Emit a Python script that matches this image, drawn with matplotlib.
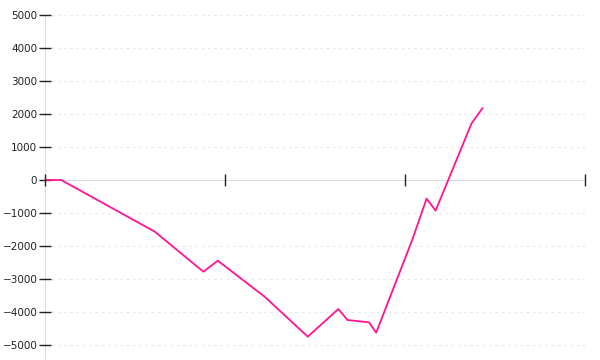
import matplotlib
matplotlib.use("Agg")
import matplotlib.pyplot as plt

# cumulative values (x in tick units of 100)
x_vals = [0, 9, 61, 88, 96, 122, 146, 163, 168, 180, 184, 204, 212, 217, 237, 243]
y_vals = [0, 0, -1566, -2778, -2445, -3536, -4748, -3909, -4242, -4313, -4626,
          -1818, -566, -929, 1717, 2172]
y_ticks = [-5000, -4000, -3000, -2000, -1000, 0, 1000, 2000, 3000, 4000, 5000]
x_ticks = [0, 100, 200, 300]

fig = plt.figure(figsize=(6, 3.6), dpi=100)
ax = fig.add_axes([0.075, 0.0, 0.9, 345 / 360])

ax.plot(x_vals, y_vals, color="#ff1493", lw=1.3, zorder=3)

ax.set_xlim(0, 300)
ax.set_ylim(-5455, 5000)

# dotted grid
for v in y_ticks:
    if v != 0:
        ax.axhline(v, color="#e8e8e8", lw=0.9, ls=(0, (2, 3)), zorder=1)

for s in ["top", "right"]:
    ax.spines[s].set_visible(False)
ax.spines["left"].set_color("#dddddd")
ax.spines["left"].set_zorder(0.5)
ax.spines["bottom"].set_position(("data", 0))
ax.spines["bottom"].set_color("#dddddd")
ax.spines["bottom"].set_zorder(0.5)

ax.set_yticks(y_ticks)
ax.set_xticks(x_ticks)
ax.set_xticklabels([])
ax.tick_params(axis="y", direction="inout", length=9, width=1, color="#222222",
               labelsize=7.5, labelcolor="#222222", pad=1)
ax.tick_params(axis="x", direction="inout", length=8, width=1, color="#222222")
ax.xaxis.set_zorder(4)

plt.savefig("out.png", dpi=100)
